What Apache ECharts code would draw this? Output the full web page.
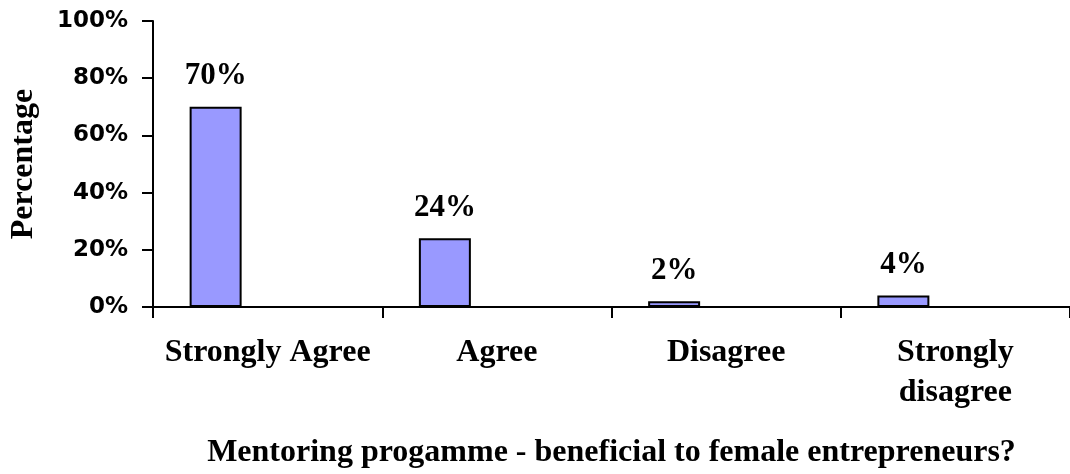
<!DOCTYPE html>
<html>
<head>
<meta charset="utf-8">
<script src="https://cdn.jsdelivr.net/npm/echarts@6/dist/echarts.min.js"></script>
<style>
  html, body { margin: 0; padding: 0; background: #fff; }
  #chart { width: 1070px; height: 474px; }
</style>
</head>
<body>
<div id="chart"></div>
<script>
const categories = ['Strongly Agree', 'Agree', 'Disagree', 'Strongly\ndisagree']
const percentages = [70, 24, 2, 4]
const yTicks = { min: 0, max: 100, interval: 20 }

const serif = '"Liberation Serif", "Times New Roman", serif'
const chart = echarts.init(document.getElementById('chart'))

// the original chart leaves room for two empty series next to the bar
const emptySeries = categories.map(() => null)

const option = {
  animation: false,
  grid: { left: 152, top: 21, width: 921, height: 291, containLabel: false },
  xAxis: {
    type: 'category',
    data: categories,
    name: 'Mentoring progamme - beneficial to female entrepreneurs?',
    nameLocation: 'middle',
    nameGap: 130,
    nameTextStyle: { fontFamily: serif, fontWeight: 'bold', fontSize: 32, color: '#000' },
    axisLine: { lineStyle: { color: '#000', width: 2 } },
    axisTick: { show: true, length: 11, lineStyle: { color: '#000', width: 2 } },
    axisLabel: {
      margin: 26,
      fontFamily: serif,
      fontWeight: 'bold',
      fontSize: 32,
      lineHeight: 40,
      color: '#000',
      interval: 0
    }
  },
  yAxis: {
    type: 'value',
    min: yTicks.min,
    max: yTicks.max,
    interval: yTicks.interval,
    name: 'Percentage',
    nameLocation: 'middle',
    nameGap: 113,
    nameTextStyle: { fontFamily: serif, fontWeight: 'bold', fontSize: 32, color: '#000' },
    splitLine: { show: false },
    axisLine: { show: true, lineStyle: { color: '#000', width: 2 } },
    axisTick: { show: true, inside: false, length: 11, lineStyle: { color: '#000', width: 2 } },
    axisLabel: {
      margin: 25,
      formatter: '{value}%',
      fontFamily: '"DejaVu Sans", sans-serif',
      fontWeight: 'bold',
      fontSize: 23,
      color: '#000'
    }
  },
  series: [
    {
      type: 'bar',
      data: percentages,
      barWidth: 52,
      barGap: '0%',
      itemStyle: { color: '#9999ff', borderColor: '#000', borderWidth: 2 },
      label: {
        show: true,
        position: 'top',
        distance: 15,
        formatter: '{c}%',
        fontFamily: serif,
        fontWeight: 'bold',
        fontSize: 31,
        color: '#000'
      }
    },
    { type: 'bar', data: emptySeries, barWidth: 52, barGap: '0%' },
    { type: 'bar', data: emptySeries, barWidth: 52, barGap: '0%' }
  ]
}
chart.setOption(option)
</script>
</body>
</html>
